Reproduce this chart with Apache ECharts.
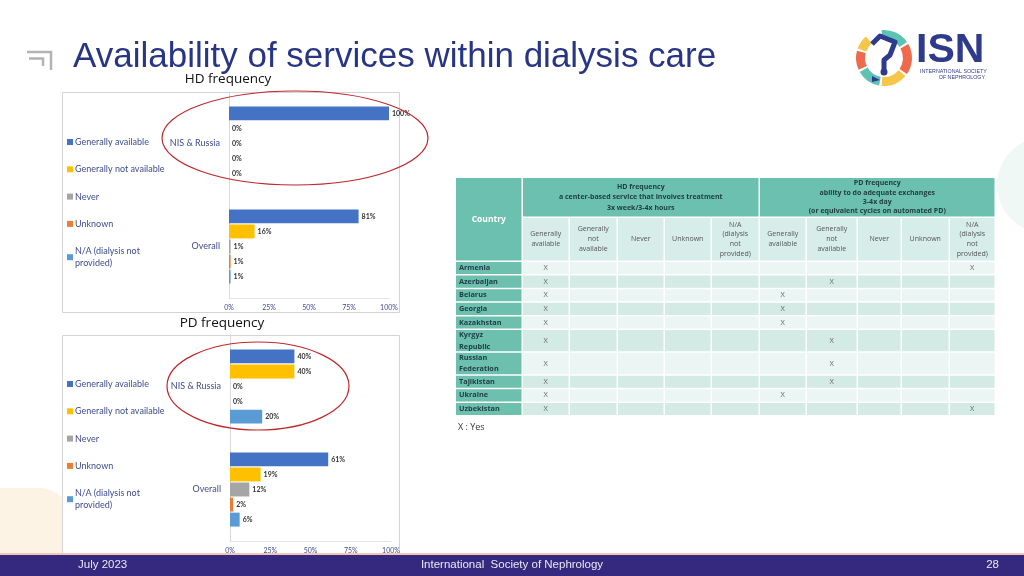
<!DOCTYPE html>
<html>
<head>
<meta charset="utf-8">
<script src="https://cdn.jsdelivr.net/npm/echarts@6/dist/echarts.min.js"></script>
<style>html,body{margin:0;padding:0;background:#fff}#c{width:1024px;height:576px}</style>
</head>
<body>
<div id="c"></div>
<script>
// ---------- DATA ----------
const groups = ['NIS & Russia', 'Overall'];
const statusNames = ['Generally available', 'Generally not available', 'Never', 'Unknown', 'N/A (dialysis not provided)'];
const hdGenerallyAvailable = [100, 81];
const hdGenerallyNotAvailable = [0, 16];
const hdNever = [0, 1];
const hdUnknown = [0, 1];
const hdNotProvided = [0, 1];
const pdGenerallyAvailable = [40, 61];
const pdGenerallyNotAvailable = [40, 19];
const pdNever = [0, 12];
const pdUnknown = [0, 2];
const pdNotProvided = [20, 6];

const countries = ['Armenia', 'Azerbaijan', 'Belarus', 'Georgia', 'Kazakhstan', 'Kyrgyz\nRepublic', 'Russian\nFederation', 'Tajikistan', 'Ukraine', 'Uzbekistan'];
const hdAvailability = ['Generally available', 'Generally available', 'Generally available', 'Generally available', 'Generally available', 'Generally available', 'Generally available', 'Generally available', 'Generally available', 'Generally available'];
const pdAvailability = ['N/A (dialysis not provided)', 'Generally not available', 'Generally available', 'Generally available', 'Generally available', 'Generally not available', 'Generally not available', 'Generally not available', 'Generally available', 'N/A (dialysis not provided)'];
const tableSubHeaders = ['Generally\navailable', 'Generally\nnot\navailable', 'Never', 'Unknown', 'N/A\n(dialysis\nnot\nprovided)'];
const hdHeader = 'HD frequency\na center-based service that involves treatment\n3x week/3-4x hours';
const pdHeader = 'PD frequency\nability to do adequate exchanges\n3-4x day\n(or equivalent cycles on automated PD)';

// ---------- LAYOUT ----------
const colors = ['#4472c4', '#ffc000', '#a5a5a5', '#ed7d31', '#5b9bd5'];
const colWidths = [67, 47, 48, 47, 47, 48, 47, 51, 44, 48, 46];
const rowUnits = [1, 1, 1, 1, 1, 1.68, 1.68, 1, 1, 1];
const headerHeights = [40, 44];
const unitRow = 13.6;
const rowHeights = headerHeights.concat(rowUnits.map(u => u * unitRow));
const colEdges = [0]; colWidths.forEach(w => colEdges.push(colEdges[colEdges.length - 1] + w));
const rowEdges = [0]; rowHeights.forEach(h => rowEdges.push(rowEdges[rowEdges.length - 1] + h));
const tableW = colEdges[colEdges.length - 1];
const tableH = rowEdges[rowEdges.length - 1];

const teal = '#6cc0b0';
const tealBody = '#6dbfae';
const subFill = '#d7ede9';
const lightFill = '#ebf5f3';
const darkFill = '#d3eae5';
const tFont = "'Open Sans', 'Noto Sans', sans-serif";

const cells = [];
cells.push({c0: 0, c1: 1, r0: 0, r1: 2, text: 'Country', fill: teal, color: '#ffffff', size: 8.5, bold: true});
cells.push({c0: 1, c1: 6, r0: 0, r1: 1, text: hdHeader, fill: teal, color: '#1f3b40', size: 7, bold: true, lh: 10.5});
cells.push({c0: 6, c1: 11, r0: 0, r1: 1, text: pdHeader, fill: teal, color: '#1f3b40', size: 7, bold: true, lh: 9.4});
for (let k = 0; k < 2; k++) {
  tableSubHeaders.forEach((t, j) => {
    cells.push({c0: 1 + k * 5 + j, c1: 2 + k * 5 + j, r0: 1, r1: 2, text: t, fill: subFill, color: '#555', size: 7, lh: 9.8});
  });
}
countries.forEach((name, i) => {
  const fill = i % 2 === 0 ? lightFill : darkFill;
  cells.push({c0: 0, c1: 1, r0: 2 + i, r1: 3 + i, text: name, fill: tealBody, color: '#1d3d46', size: 7.3, bold: true, align: 'left', lh: 11.5});
  statusNames.forEach((s, j) => {
    cells.push({c0: 1 + j, c1: 2 + j, r0: 2 + i, r1: 3 + i, text: hdAvailability[i] === s ? 'X' : '', fill, color: '#666', size: 7.5});
    cells.push({c0: 6 + j, c1: 7 + j, r0: 2 + i, r1: 3 + i, text: pdAvailability[i] === s ? 'X' : '', fill, color: '#666', size: 7.5});
  });
});

function renderCell(params, api) {
  const cell = cells[params.dataIndex];
  const p0 = api.coord([colEdges[cell.c0], rowEdges[cell.r0]]);
  const p1 = api.coord([colEdges[cell.c1], rowEdges[cell.r1]]);
  const x = Math.min(p0[0], p1[0]), y = Math.min(p0[1], p1[1]);
  const w = Math.abs(p1[0] - p0[0]), h = Math.abs(p1[1] - p0[1]);
  const left = cell.align === 'left';
  return {
    type: 'group',
    children: [
      {type: 'rect', shape: {x: x, y: y, width: w - 1.5, height: h - 1.5}, style: {fill: cell.fill}},
      {type: 'text', style: {
        text: cell.text, x: left ? x + 3 : x + (w - 1.5) / 2, y: y + (h - 1.5) / 2,
        align: left ? 'left' : 'center', verticalAlign: 'middle',
        fill: cell.color, fontSize: cell.size, fontWeight: cell.bold ? 'bold' : 'normal',
        fontFamily: tFont, lineHeight: cell.lh || cell.size * 1.3
      }}
    ]
  };
}

const legendText = '#3d4c8f';
function barSeries(name, data, idx, color) {
  return {
    name, type: 'bar', data, xAxisIndex: idx, yAxisIndex: idx,
    itemStyle: {color},
    barCategoryGap: '28%', barGap: '8%',
    label: {show: true, position: 'right', distance: 3, formatter: '{c}%', fontSize: 7, color: '#333', fontWeight: 'bold', fontFamily: 'Lato, sans-serif'}
  };
}
const hdSets = [hdGenerallyAvailable, hdGenerallyNotAvailable, hdNever, hdUnknown, hdNotProvided];
const pdSets = [pdGenerallyAvailable, pdGenerallyNotAvailable, pdNever, pdUnknown, pdNotProvided];

function xAx(gi) {
  return {type: 'value', gridIndex: gi, min: 0, max: 100, interval: 25,
    axisLabel: {formatter: '{value}%', fontSize: 7, color: legendText, margin: 6, fontFamily: 'Lato, sans-serif'},
    axisLine: {show: true, lineStyle: {color: '#e4e4e4'}}, axisTick: {show: false}, splitLine: {show: false}};
}
function yAx(gi) {
  return {type: 'category', gridIndex: gi, data: groups, inverse: true,
    axisLabel: {fontSize: 9, color: legendText, margin: 9, fontFamily: 'Lato, sans-serif'},
    axisLine: {show: true, lineStyle: {color: '#d9d9d9'}}, axisTick: {show: false}};
}
function legend(top) {
  return {orient: 'vertical', left: 62, top, itemWidth: 6, itemHeight: 6, icon: 'rect', itemGap: 15.3,
    data: statusNames,
    formatter: n => n === 'N/A (dialysis not provided)' ? 'N/A (dialysis not\nprovided)' : n,
    textStyle: {fontSize: 9, color: legendText, lineHeight: 12, fontFamily: 'Lato, sans-serif', padding: [0, 0, 0, -3]}};
}

const logoSegs = [
  {a0: 95, a1: 35, c: '#5cc3b2'},
  {a0: 30, a1: -35, c: '#ef6a4c'},
  {a0: -40, a1: -95, c: '#f7c548'},
  {a0: -100, a1: -150, c: '#5cc3b2'},
  {a0: -155, a1: -195, c: '#ef6a4c'},
  {a0: 160, a1: 130, c: '#f7c548'}
];
const logoGraphics = logoSegs.map(s => ({
  type: 'sector', z: 10,
  shape: {cx: 884, cy: 58, r: 28, r0: 19, startAngle: -s.a0 * Math.PI / 180, endAngle: -s.a1 * Math.PI / 180, clockwise: true},
  style: {fill: s.c}
}));

const option = {
  animation: false,
  backgroundColor: '#ffffff',
  color: colors,
  grid: [
    {left: 229, top: 92, width: 160, height: 206},
    {left: 230, top: 335, width: 161, height: 206},
    {left: 456, top: 178, width: tableW, height: tableH}
  ],
  xAxis: [xAx(0), xAx(1), {type: 'value', gridIndex: 2, min: 0, max: tableW, show: false}],
  yAxis: [yAx(0), yAx(1), {type: 'value', gridIndex: 2, min: 0, max: tableH, inverse: true, show: false}],
  legend: [legend(131), legend(373)],
  series: [
    ...hdSets.map((d, i) => barSeries(statusNames[i], d, 0, colors[i])),
    ...pdSets.map((d, i) => barSeries(statusNames[i], d, 1, colors[i])),
    {type: 'custom', xAxisIndex: 2, yAxisIndex: 2, clip: false, renderItem: renderCell,
      data: cells.map(c => [colEdges[c.c0], rowEdges[c.r0]])}
  ],
  graphic: [
    // decorative background shapes
    {type: 'circle', z: -10, shape: {cx: 1045, cy: 185, r: 48}, style: {fill: '#f0f8f5'}},
    {type: 'rect', z: -10, shape: {x: 0, y: 488, width: 70, height: 68, r: [0, 30, 0, 0]}, style: {fill: '#fdf3e4'}},
    // panels
    {type: 'rect', z: -5, shape: {x: 62.5, y: 92.5, width: 337, height: 220}, style: {fill: '#fff', stroke: '#d4d4d4', lineWidth: 1}},
    {type: 'rect', z: -5, shape: {x: 62.5, y: 335.5, width: 337, height: 222}, style: {fill: '#fff', stroke: '#d4d4d4', lineWidth: 1}},
    // title icon
    {type: 'polyline', z: 10, shape: {points: [[27, 52], [51, 52], [51, 70]]}, style: {stroke: '#b3b3b3', lineWidth: 2.5, fill: null}},
    {type: 'polyline', z: 10, shape: {points: [[29, 58.5], [43, 58.5], [43, 66]]}, style: {stroke: '#b3b3b3', lineWidth: 2.5, fill: null}},
    // title
    {type: 'text', z: 10, style: {text: 'Availability of services within dialysis care', x: 73, y: 57, verticalAlign: 'middle', fill: '#283584', fontSize: 35, fontFamily: "'Liberation Sans', Arial, sans-serif"}},
    {type: 'text', z: 10, style: {text: 'HD frequency', x: 228, y: 79, align: 'center', verticalAlign: 'middle', fill: '#111', fontSize: 13.5, fontFamily: tFont}},
    {type: 'text', z: 10, style: {text: 'PD frequency', x: 222, y: 323, align: 'center', verticalAlign: 'middle', fill: '#111', fontSize: 13.5, fontFamily: tFont}},
    {type: 'text', z: 10, style: {text: 'X : Yes', x: 458, y: 427, verticalAlign: 'middle', fill: '#333', fontSize: 9, fontFamily: tFont}},
    // ellipses
    {type: 'ellipse', z: 100, shape: {cx: 295, cy: 138, rx: 133, ry: 47}, style: {fill: null, stroke: '#c0272d', lineWidth: 1.2}},
    {type: 'ellipse', z: 100, shape: {cx: 258, cy: 386, rx: 91, ry: 44}, style: {fill: null, stroke: '#c0272d', lineWidth: 1.2}},
    // logo
    ...logoGraphics,
    {type: 'polyline', z: 11, shape: {points: [[872, 44], [880, 36], [895, 42], [890, 55], [884, 60], [884, 70]]}, style: {stroke: '#2e3a8c', lineWidth: 5, fill: null, lineJoin: 'round'}},
    {type: 'circle', z: 11, shape: {cx: 884, cy: 72, r: 3.5}, style: {fill: '#2e3a8c'}},
    {type: 'polygon', z: 11, shape: {points: [[872, 76], [880, 80], [872, 82]]}, style: {fill: '#2e3a8c'}},
    {type: 'text', z: 10, style: {text: 'ISN', x: 916, y: 51, verticalAlign: 'middle', fill: '#2e3a8c', fontSize: 41, fontWeight: 'bold', fontFamily: "'Liberation Sans', Arial, sans-serif"}},
    {type: 'text', z: 10, style: {text: 'INTERNATIONAL SOCIETY', x: 920, y: 72, verticalAlign: 'middle', fill: '#2e3a8c', fontSize: 5.3, fontFamily: "'Liberation Sans', Arial, sans-serif"}},
    {type: 'text', z: 10, style: {text: 'OF NEPHROLOGY', x: 985, y: 78, align: 'right', verticalAlign: 'middle', fill: '#2e3a8c', fontSize: 5.3, fontFamily: "'Liberation Sans', Arial, sans-serif"}},
    // footer
    {type: 'rect', z: 50, shape: {x: 0, y: 553, width: 1024, height: 2}, style: {fill: '#f2c6b4'}},
    {type: 'rect', z: 50, shape: {x: 0, y: 555, width: 1024, height: 21}, style: {fill: '#35297f'}},
    {type: 'text', z: 51, style: {text: 'July 2023', x: 78, y: 565, verticalAlign: 'middle', fill: '#e8e8f4', fontSize: 11.5, fontFamily: "'Liberation Sans Narrow', 'Liberation Sans', sans-serif"}},
    {type: 'text', z: 51, style: {text: 'International  Society of Nephrology', x: 512, y: 565, align: 'center', verticalAlign: 'middle', fill: '#e8e8f4', fontSize: 11.5, fontFamily: "'Liberation Sans Narrow', 'Liberation Sans', sans-serif"}},
    {type: 'text', z: 51, style: {text: '28', x: 999, y: 565, align: 'right', verticalAlign: 'middle', fill: '#e8e8f4', fontSize: 11.5, fontFamily: "'Liberation Sans Narrow', 'Liberation Sans', sans-serif"}}
  ]
};

const chart = echarts.init(document.getElementById('c'), null, {renderer: 'canvas'});
chart.setOption(option);
</script>
</body>
</html>
